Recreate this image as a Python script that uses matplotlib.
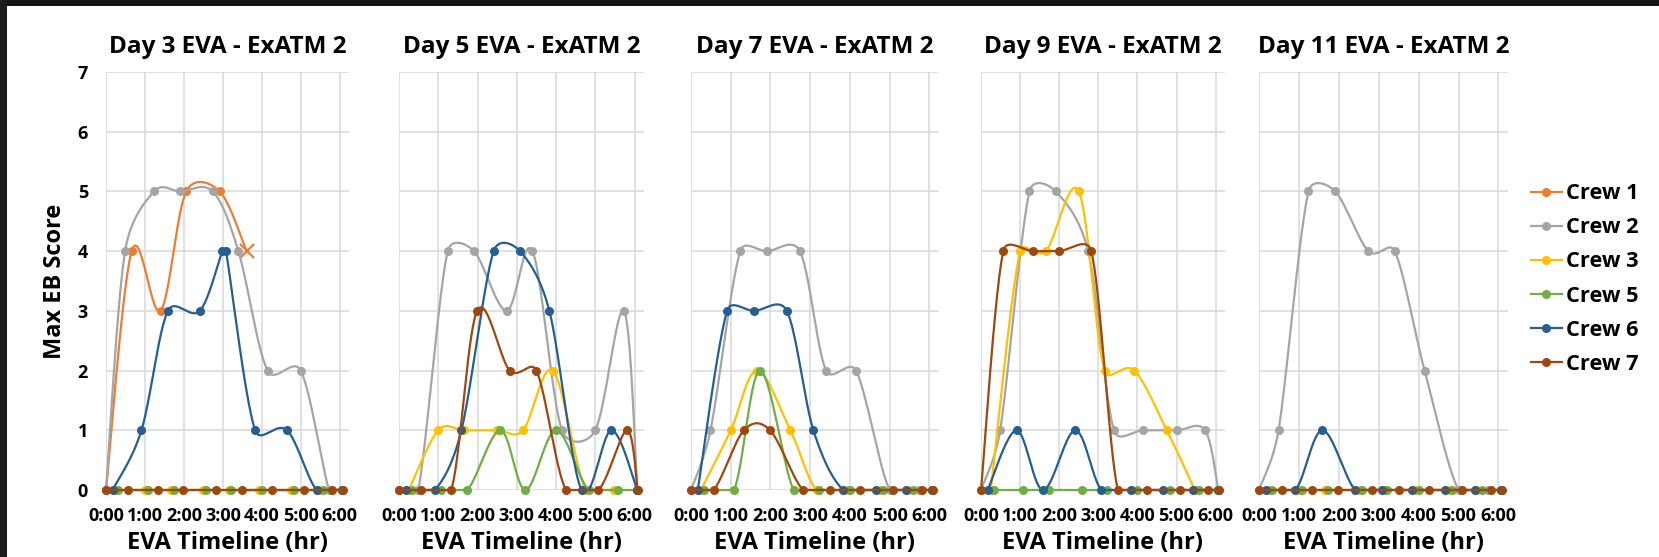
import numpy as np
import matplotlib
matplotlib.use("Agg")
import matplotlib.pyplot as plt
from matplotlib.lines import Line2D
from matplotlib.patches import Rectangle

# ---------------- data ----------------
DAYS = ["Day 3", "Day 5", "Day 7", "Day 9", "Day 11"]
CREWS = ["Crew 1", "Crew 2", "Crew 3", "Crew 5", "Crew 6", "Crew 7"]
COLORS = ["#ED7D31", "#A5A5A5", "#FFC000", "#70AD47", "#255E91", "#9E480E"]
X_TICKS = [0, 1, 2, 3, 4, 5, 6]
X_LABELS = ["0:00", "1:00", "2:00", "3:00", "4:00", "5:00", "6:00"]
Y_TICKS = [0, 1, 2, 3, 4, 5, 6, 7]

# sample times (hours) for each crew
T_CREW1 = [0, 0.66, 1.40, 2.06, 2.92, 3.61]
T_CREW2 = [0, 0.49, 1.24, 1.91, 2.74, 3.40, 4.15, 5.00, 5.73, 6.07]
T_CREW3 = [0.25, 1.00, 1.66, 2.50, 3.16, 3.92, 4.75, 5.47]
T_CREW5 = [0.32, 1.08, 1.74, 2.58, 3.22, 4.00, 4.83, 5.58, 6.07]
T_CREW6 = [0.17, 0.91, 1.59, 2.41, 3.08, 3.83, 4.65, 5.41, 6.07]
T_CREW6_DAY3 = [0.17, 0.91, 1.59, 2.41, 2.99, 3.08, 3.83, 4.65, 5.41, 6.07]
T_CREW7 = [0, 0.57, 1.33, 1.99, 2.82, 3.50, 4.25, 5.08, 5.81, 6.08]

# Max EB score per day
CREW1_DAY3 = [0, 4, 3, 5, 5, 4]

CREW2_DAY3 = [0, 4, 5, 5, 5, 4, 2, 2, 0, 0]
CREW2_DAY5 = [0, 0, 4, 4, 3, 4, 1, 1, 3, 0]
CREW2_DAY7 = [0, 1, 4, 4, 4, 2, 2, 0, 0, 0]
CREW2_DAY9 = [0, 1, 5, 5, 4, 1, 1, 1, 1, 0]
CREW2_DAY11 = [0, 1, 5, 5, 4, 4, 2, 0, 0, 0]

CREW3_DAY3 = [0, 0, 0, 0, 0, 0, 0, 0]
CREW3_DAY5 = [0, 1, 1, 1, 1, 2, 0, 0]
CREW3_DAY7 = [0, 1, 2, 1, 0, 0, 0, 0]
CREW3_DAY9 = [0, 4, 4, 5, 2, 2, 1, 0]
CREW3_DAY11 = [0, 0, 0, 0, 0, 0, 0, 0]

CREW5_DAY3 = [0, 0, 0, 0, 0, 0, 0, 0, 0]
CREW5_DAY5 = [0, 0, 0, 1, 0, 1, 0, 0, 0]
CREW5_DAY7 = [0, 0, 2, 0, 0, 0, 0, 0, 0]
CREW5_DAY9 = [0, 0, 0, 0, 0, 0, 0, 0, 0]
CREW5_DAY11 = [0, 0, 0, 0, 0, 0, 0, 0, 0]

CREW6_DAY3 = [0, 1, 3, 3, 4, 4, 1, 1, 0, 0]
CREW6_DAY5 = [0, 0, 1, 4, 4, 3, 0, 1, 0]
CREW6_DAY7 = [0, 3, 3, 3, 1, 0, 0, 0, 0]
CREW6_DAY9 = [0, 1, 0, 1, 0, 0, 0, 0, 0]
CREW6_DAY11 = [0, 0, 1, 0, 0, 0, 0, 0, 0]

CREW7_DAY3 = [0, 0, 0, 0, 0, 0, 0, 0, 0, 0]
CREW7_DAY5 = [0, 0, 0, 3, 2, 2, 0, 0, 1, 0]
CREW7_DAY7 = [0, 0, 1, 1, 0, 0, 0, 0, 0, 0]
CREW7_DAY9 = [0, 4, 4, 4, 4, 0, 0, 0, 0, 0]
CREW7_DAY11 = [0, 0, 0, 0, 0, 0, 0, 0, 0, 0]

SERIES = {
    "Day 3": [(T_CREW1, CREW1_DAY3), (T_CREW2, CREW2_DAY3), (T_CREW3, CREW3_DAY3),
              (T_CREW5, CREW5_DAY3), (T_CREW6_DAY3, CREW6_DAY3), (T_CREW7, CREW7_DAY3)],
    "Day 5": [None, (T_CREW2, CREW2_DAY5), (T_CREW3, CREW3_DAY5),
              (T_CREW5, CREW5_DAY5), (T_CREW6, CREW6_DAY5), (T_CREW7, CREW7_DAY5)],
    "Day 7": [None, (T_CREW2, CREW2_DAY7), (T_CREW3, CREW3_DAY7),
              (T_CREW5, CREW5_DAY7), (T_CREW6, CREW6_DAY7), (T_CREW7, CREW7_DAY7)],
    "Day 9": [None, (T_CREW2, CREW2_DAY9), (T_CREW3, CREW3_DAY9),
              (T_CREW5, CREW5_DAY9), (T_CREW6, CREW6_DAY9), (T_CREW7, CREW7_DAY9)],
    "Day 11": [None, (T_CREW2, CREW2_DAY11), (T_CREW3, CREW3_DAY11),
               (T_CREW5, CREW5_DAY11), (T_CREW6, CREW6_DAY11), (T_CREW7, CREW7_DAY11)],
}

SX, SY = 39.2, 59.6  # screen pixels per hour / per score unit (for smoothing only)


def smooth(t, y, n=40):
    """Excel-style smoothed line: Bezier with 1/6 tangents, capped at half segment length."""
    p = np.column_stack([np.asarray(t, float) * SX, np.asarray(y, float) * SY])
    ext = np.vstack([p[0], p, p[-1]])
    out = []
    s = np.linspace(0, 1, n)[:, None]
    for i in range(1, len(ext) - 2):
        p0, p1, p2, p3 = ext[i - 1], ext[i], ext[i + 1], ext[i + 2]
        d12 = np.hypot(*(p2 - p1))
        d02 = np.hypot(*(p2 - p0))
        d13 = np.hypot(*(p3 - p1))
        f1 = 1 / 6 if d02 == 0 else min(1 / 6, d12 / (2 * d02))
        f2 = 1 / 6 if d13 == 0 else min(1 / 6, d12 / (2 * d13))
        c1 = p1 + (p2 - p0) * f1
        c2 = p2 - (p3 - p1) * f2
        seg = ((1 - s) ** 3) * p1 + 3 * ((1 - s) ** 2) * s * c1 + 3 * (1 - s) * s ** 2 * c2 + s ** 3 * p2
        out.append(seg if i == 1 else seg[1:])
    c = np.vstack(out)
    return c[:, 0] / SX, np.maximum(c[:, 1] / SY, 0)


# ---------------- figure ----------------
W, H = 1659, 557
fig = plt.figure(figsize=(W / 100, H / 100), dpi=100, facecolor="white")
plt.rcParams["font.family"] = ["Open Sans", "DejaVu Sans"]
plt.rcParams["font.weight"] = "bold"

# dark frame of the slide
fig.patches.append(Rectangle((0, (H - 6) / H), 1, 6 / H, transform=fig.transFigure,
                             facecolor="#161616", edgecolor="none", zorder=-10))
fig.patches.append(Rectangle((0, 0), 7 / W, 1, transform=fig.transFigure,
                             facecolor="#1c1c1c", edgecolor="none", zorder=-10))

PANELS = [(106, 349), (399, 644), (691, 939), (981, 1225), (1259, 1508)]
TOP, BOT = 72, 490
XMAX = 6.24

for k, (day, (l, r)) in enumerate(zip(DAYS, PANELS)):
    ax = fig.add_axes([l / W, (H - BOT) / H, (r - l) / W, (BOT - TOP) / H])
    ax.set_xlim(0, XMAX)
    ax.set_ylim(0, 7)
    ax.set_xticks(X_TICKS)
    ax.set_xticklabels(X_LABELS)
    ax.set_yticks(Y_TICKS)
    ax.grid(True, color="#D9D9D9", lw=1.1)
    ax.set_axisbelow(True)
    for sp in ax.spines.values():
        sp.set_visible(False)
    ax.tick_params(axis="x", length=0, pad=12, labelsize=13)
    ax.tick_params(axis="y", length=0, pad=13, labelsize=13, labelleft=(k == 0))
    for lab in ax.get_xticklabels() + ax.get_yticklabels():
        lab.set_fontweight("bold")

    for j, (ser, col) in enumerate(zip(SERIES[day], COLORS)):
        if ser is None:
            continue
        t, v = ser
        xs, ys = smooth(t, v)
        ax.plot(xs, ys, color=col, lw=1.6, zorder=3 + j, clip_on=False,
                solid_capstyle="round")
        if day == "Day 3" and j == 0:
            ax.plot(t[:-1], v[:-1], "o", color=col, ms=6.5, mew=0, zorder=3 + j, clip_on=False)
            ax.plot(t[-1:], v[-1:], "x", color=col, ms=10, mew=1.6, zorder=3 + j, clip_on=False)
        else:
            ax.plot(t, v, "o", color=col, ms=6.5, mew=0, zorder=3 + j, clip_on=False)

    ax.set_title(f"{day} EVA - ExATM 2", fontsize=17.5, fontweight="bold", pad=14)
    ax.set_xlabel("EVA Timeline (hr)", fontsize=17, fontweight="bold")
    ax.xaxis.set_label_coords(0.5, -(543 - BOT) / (BOT - TOP))
    ax.xaxis.label.set_va("center")
    if k == 0:
        ax.set_ylabel("Max EB Score", fontsize=17, fontweight="bold")
        ax.yaxis.set_label_coords(-(l - 55) / (r - l), 0.5)
        ax.yaxis.label.set_va("center")

handles = [Line2D([0], [0], color=c, lw=1.6, marker="o", ms=6.5, mew=0) for c in COLORS]
fig.legend(handles, CREWS, loc="center left", bbox_to_anchor=(1531 / W, (H - 279) / H),
           frameon=False, prop={"size": 15.7, "weight": "bold"}, handlelength=1.42,
           handletextpad=0.18, labelspacing=0.6, borderpad=0, borderaxespad=0)

fig.savefig("out.png", dpi=100, facecolor="white")
